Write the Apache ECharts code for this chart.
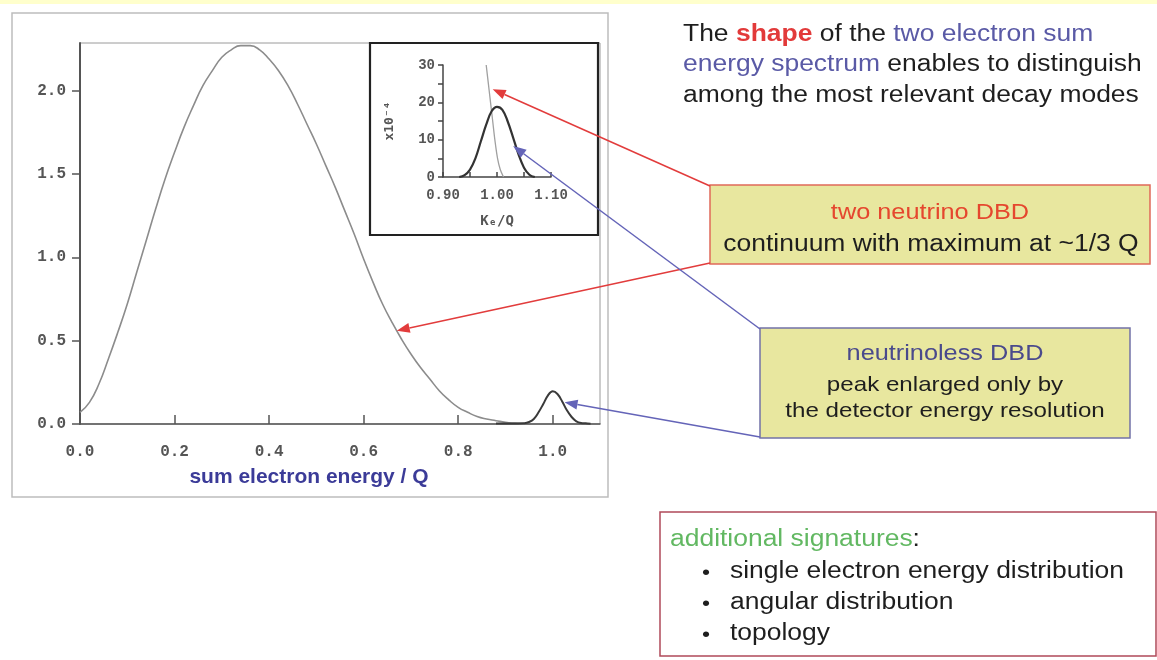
<!DOCTYPE html>
<html>
<head>
<meta charset="utf-8">
<script src="https://cdn.jsdelivr.net/npm/echarts@6/dist/echarts.min.js"></script>
<style>
  html, body { margin: 0; padding: 0; background: #ffffff; }
  #chart { width: 1157px; height: 660px; }
</style>
</head>
<body>
<div id="chart"></div>
<script>
// Two-neutrino double beta decay: summed electron energy spectrum (E/Q, arbitrary units)
const twoNuX = [0.00, 0.02, 0.04, 0.06, 0.08, 0.10, 0.12, 0.14, 0.16, 0.18, 0.20, 0.22, 0.24, 0.26, 0.28,
                0.30, 0.32, 0.34, 0.36, 0.38, 0.40, 0.42, 0.44, 0.46, 0.48, 0.50, 0.52, 0.54, 0.56, 0.58,
                0.60, 0.62, 0.64, 0.66, 0.68, 0.70, 0.72, 0.74, 0.76, 0.78, 0.80, 0.82, 0.84, 0.86, 0.88,
                0.90, 0.92, 0.94];
const twoNuY = [0.07, 0.13, 0.24, 0.39, 0.55, 0.72, 0.91, 1.10, 1.29, 1.47, 1.63, 1.78, 1.91, 2.03, 2.12,
                2.20, 2.245, 2.27, 2.27, 2.245, 2.19, 2.12, 2.03, 1.92, 1.80, 1.68, 1.55, 1.42, 1.28, 1.14,
                0.99, 0.85, 0.72, 0.61, 0.51, 0.42, 0.34, 0.27, 0.20, 0.145, 0.10, 0.07, 0.045, 0.03, 0.02,
                0.01, 0.005, 0.002];

// Neutrinoless peak at E = Q, smeared by the detector resolution
const zeroNuX = [0.88, 0.91, 0.94, 0.95, 0.96, 0.97, 0.98, 0.99, 1.00, 1.01, 1.02, 1.03, 1.04, 1.05, 1.06, 1.07, 1.08];
const zeroNuY = [0.003, 0.003, 0.005, 0.012, 0.03, 0.07, 0.12, 0.172, 0.196, 0.18, 0.135, 0.082, 0.042, 0.016, 0.006, 0.004, 0.002];

// Zoom around the endpoint (inset, units of 1e-4)
const insetPeakX = [0.93, 0.94, 0.95, 0.96, 0.97, 0.98, 0.99, 1.00, 1.01, 1.02, 1.03, 1.04, 1.05, 1.06, 1.07];
const insetPeakY = [0, 0.5, 2.0, 5.0, 9.5, 14.0, 17.6, 18.8, 18.0, 14.8, 10.5, 6.0, 2.5, 0.6, 0];
const insetTwoNuX = [0.980, 0.984, 0.988, 0.992, 0.996, 1.001, 1.006, 1.012];
const insetTwoNuY = [30, 25, 20, 15, 10, 5, 2, 0];

// Axis ticks and labels
const mainXTicks = [0.0, 0.2, 0.4, 0.6, 0.8, 1.0];
const mainYTicks = [0.0, 0.5, 1.0, 1.5, 2.0];
const insetXLabels = [0.90, 1.00, 1.10];
const insetXTicks = [0.90, 0.95, 1.00, 1.05, 1.10];
const insetYLabels = [0, 10, 20, 30];
const insetYTicks = [0, 5, 10, 15, 20, 25, 30];

const zip = (xs, ys) => xs.map((x, i) => [x, ys[i]]);

const MONO = '"Liberation Mono", "DejaVu Sans Mono", monospace';
const SANS = '"Liberation Sans", Arial, sans-serif';
const SX = 1.15; // slide text is set slightly wide

const chart = echarts.init(document.getElementById('chart'), null, { renderer: 'canvas' });

const tickLabelStyle = { color: '#555', fontFamily: MONO, fontWeight: 'bold', fontSize: 16 };

const option = {
  backgroundColor: '#ffffff',
  animation: false,
  grid: [
    { left: 80, top: 43, width: 520, height: 381, show: true, borderColor: '#9a9a9a', borderWidth: 1, backgroundColor: 'transparent' },
    { left: 443, top: 65, width: 108, height: 112, show: false }
  ],
  xAxis: [
    {
      type: 'value', gridIndex: 0, min: 0, max: 1.1,
      axisLine: { show: true, onZero: false, lineStyle: { color: '#555', width: 1.5 } },
      axisTick: { show: true, inside: true, length: 9, customValues: mainXTicks, lineStyle: { color: '#555', width: 1.5 } },
      axisLabel: Object.assign({ margin: 20, customValues: mainXTicks, formatter: v => v.toFixed(1) }, tickLabelStyle),
      splitLine: { show: false },
      name: 'sum electron energy / Q', nameLocation: 'middle', nameGap: 43,
      nameTextStyle: { color: '#3b3b98', fontFamily: SANS, fontWeight: 'bold', fontSize: 21, padding: [0, 62, 0, 0] }
    },
    {
      type: 'value', gridIndex: 1, min: 0.9, max: 1.1, z: 5,
      axisLine: { show: true, onZero: false, lineStyle: { color: '#444', width: 1.5 } },
      axisTick: { show: true, inside: true, length: 5, customValues: insetXTicks, lineStyle: { color: '#444', width: 1.5 } },
      axisLabel: Object.assign({}, tickLabelStyle, { fontSize: 14, margin: 11, customValues: insetXLabels, formatter: v => v.toFixed(2) }),
      splitLine: { show: false },
      name: 'Kₑ/Q', nameLocation: 'middle', nameGap: 37,
      nameTextStyle: { color: '#555', fontFamily: '"DejaVu Sans Mono", monospace', fontWeight: 'bold', fontSize: 14 }
    }
  ],
  yAxis: [
    {
      type: 'value', gridIndex: 0, min: 0, max: 2.286,
      axisLine: { show: true, onZero: false, lineStyle: { color: '#555', width: 2 } },
      axisTick: { show: true, inside: false, length: 8, customValues: mainYTicks, lineStyle: { color: '#555', width: 1.5 } },
      axisLabel: Object.assign({ margin: 14, customValues: mainYTicks, formatter: v => v.toFixed(1) }, tickLabelStyle),
      splitLine: { show: false }
    },
    {
      type: 'value', gridIndex: 1, min: 0, max: 30, z: 5,
      axisLine: { show: true, onZero: false, lineStyle: { color: '#444', width: 1.5 } },
      axisTick: { show: true, inside: false, length: 5, customValues: insetYTicks, lineStyle: { color: '#444', width: 1.5 } },
      axisLabel: Object.assign({}, tickLabelStyle, { fontSize: 14, margin: 8, customValues: insetYLabels, formatter: v => String(v) }),
      splitLine: { show: false },
      name: 'x10⁻⁴', nameLocation: 'middle', nameGap: 47, nameRotate: 90,
      nameTextStyle: { color: '#555', fontFamily: '"DejaVu Sans Mono", monospace', fontWeight: 'bold', fontSize: 13 }
    }
  ],
  series: [
    {
      name: '2νββ', type: 'line', xAxisIndex: 0, yAxisIndex: 0, data: zip(twoNuX, twoNuY),
      smooth: 0.5, showSymbol: false, lineStyle: { color: '#8c8c8c', width: 1.6 }, z: 3
    },
    {
      name: '0νββ', type: 'line', xAxisIndex: 0, yAxisIndex: 0, data: zip(zeroNuX, zeroNuY),
      smooth: 0.4, showSymbol: false, lineStyle: { color: '#3a3a3a', width: 2 }, z: 4
    },
    {
      name: '2νββ endpoint', type: 'line', xAxisIndex: 1, yAxisIndex: 1, data: zip(insetTwoNuX, insetTwoNuY),
      smooth: 0.3, showSymbol: false, lineStyle: { color: '#a0a0a0', width: 1.3 }, z: 6
    },
    {
      name: '0νββ peak', type: 'line', xAxisIndex: 1, yAxisIndex: 1, data: zip(insetPeakX, insetPeakY),
      smooth: 0.4, showSymbol: false, lineStyle: { color: '#333', width: 2.2 }, z: 7
    }
  ]
};

chart.setOption(option);

// ---- slide furniture: panel frames, call-out boxes, arrows and captions ----
function arrow(from, to, color) {
  const dx = to[0] - from[0], dy = to[1] - from[1];
  const len = Math.sqrt(dx * dx + dy * dy);
  const ux = dx / len, uy = dy / len;
  const hl = 13, hw = 5;
  const bx = to[0] - ux * hl, by = to[1] - uy * hl;
  return [
    { type: 'line', z: 20, shape: { x1: from[0], y1: from[1], x2: bx, y2: by }, style: { stroke: color, lineWidth: 1.5 } },
    { type: 'polygon', z: 20, shape: { points: [to, [bx - uy * hw, by + ux * hw], [bx + uy * hw, by - ux * hw]] }, style: { fill: color } }
  ];
}

function txt(x, y, text, rich, opts) {
  return {
    type: 'text', x: x, y: y, scaleX: SX, z: 30,
    style: Object.assign({ text: text, rich: rich, fontFamily: SANS, fontSize: 23, fill: '#1e1e1e', align: 'left', verticalAlign: 'middle' }, opts || {})
  };
}

const BOX_FILL = '#e8e79f';
const tipRed1 = chart.convertToPixel({ gridIndex: 1 }, [0.992, 23.5]);
const tipBlue1 = chart.convertToPixel({ gridIndex: 1 }, [1.03, 8.3]);
const tipRed2 = chart.convertToPixel({ gridIndex: 0 }, [0.67, 0.56]);
const tipBlue2 = chart.convertToPixel({ gridIndex: 0 }, [1.025, 0.13]);

const graphics = [
  // thin band along the top edge
  { type: 'rect', z: -10, shape: { x: 0, y: 0, width: 1157, height: 4 }, style: { fill: '#ffffcc' } },
  // outer frame of the plot panel
  { type: 'rect', z: -10, shape: { x: 12, y: 13, width: 596, height: 484 }, style: { fill: 'none', stroke: '#bdbdbd', lineWidth: 1.5 } },
  // inset frame
  { type: 'rect', z: 1, shape: { x: 370, y: 43, width: 228, height: 192 }, style: { fill: '#ffffff', stroke: '#222', lineWidth: 2.2 } },

  // call-out boxes
  { type: 'rect', z: 10, shape: { x: 710, y: 185, width: 440, height: 79 }, style: { fill: BOX_FILL, stroke: '#e06a5a', lineWidth: 1.5 } },
  { type: 'rect', z: 10, shape: { x: 760, y: 328, width: 370, height: 110 }, style: { fill: BOX_FILL, stroke: '#7272a8', lineWidth: 1.5 } },
  { type: 'rect', z: 10, shape: { x: 660, y: 512, width: 496, height: 144 }, style: { fill: '#ffffff', stroke: '#b04a5a', lineWidth: 1.5 } },

  // headline
  txt(683, 35, '{k|The }{r|shape}{k| of the }{b|two electron sum}', {
    k: { fill: '#1e1e1e', fontSize: 23, fontFamily: SANS },
    r: { fill: '#e23a3a', fontSize: 23, fontFamily: SANS, fontWeight: 'bold' },
    b: { fill: '#5a5aa6', fontSize: 23, fontFamily: SANS }
  }),
  txt(683, 65, '{b|energy spectrum}{k| enables to distinguish}', {
    k: { fill: '#1e1e1e', fontSize: 23, fontFamily: SANS },
    b: { fill: '#5a5aa6', fontSize: 23, fontFamily: SANS }
  }),
  txt(683, 96, 'among the most relevant decay modes'),

  // box captions
  txt(930, 213, 'two neutrino DBD', null, { align: 'center', fill: '#e5472e', fontSize: 22 }),
  txt(931, 245, 'continuum with maximum at ~1/3 Q', null, { align: 'center' }),
  txt(945, 354, 'neutrinoless DBD', null, { align: 'center', fill: '#4a4a8c', fontSize: 22 }),
  txt(945, 385, 'peak enlarged only by', null, { align: 'center', fontSize: 21 }),
  txt(945, 411, 'the detector energy resolution', null, { align: 'center', fontSize: 21 }),

  txt(670, 540, '{g|additional signatures}{k|:}', {
    g: { fill: '#62b862', fontSize: 23, fontFamily: SANS },
    k: { fill: '#1e1e1e', fontSize: 23, fontFamily: SANS }
  }),
  txt(706, 573, '•', null, { fontSize: 20, align: 'center' }),
  txt(730, 572, 'single electron energy distribution'),
  txt(706, 604, '•', null, { fontSize: 20, align: 'center' }),
  txt(730, 603, 'angular distribution'),
  txt(706, 635, '•', null, { fontSize: 20, align: 'center' }),
  txt(730, 634, 'topology')
];

graphics.push.apply(graphics, arrow([710, 186], tipRed1, '#e23c3c'));
graphics.push.apply(graphics, arrow([710, 263], tipRed2, '#e23c3c'));
graphics.push.apply(graphics, arrow([760, 329], tipBlue1, '#6464b8'));
graphics.push.apply(graphics, arrow([760, 437], tipBlue2, '#6464b8'));

chart.setOption({ graphic: graphics });
</script>
</body>
</html>
